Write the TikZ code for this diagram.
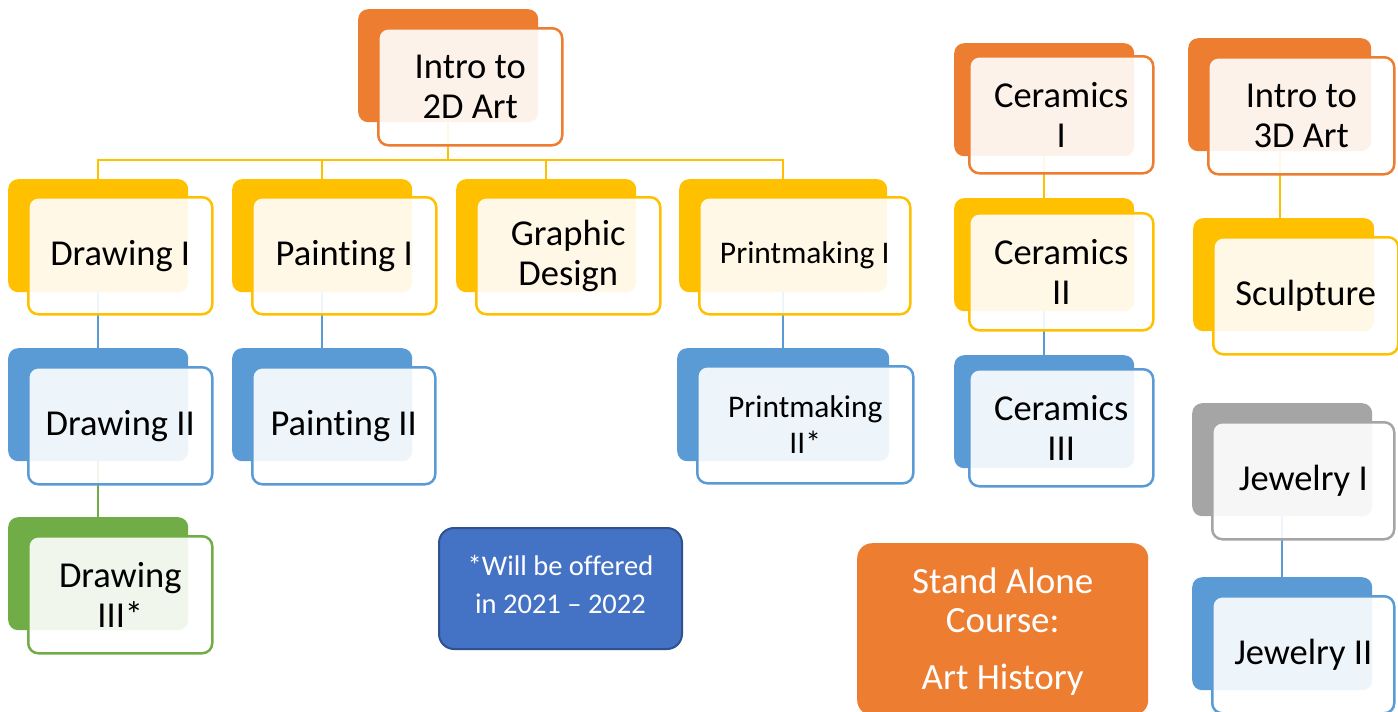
\documentclass[tikz,border=0pt]{standalone}
\usepackage{fontspec}
\setmainfont{Carlito}[Ligatures=NoCommon]
\usetikzlibrary{backgrounds}
\definecolor{cOr}{HTML}{ED7D31}
\definecolor{cYe}{HTML}{FFC000}
\definecolor{cBl}{HTML}{5B9BD5}
\definecolor{cGr}{HTML}{70AD47}
\definecolor{cGy}{HTML}{A5A5A5}
\definecolor{cNote}{HTML}{4472C4}
\definecolor{cNoteB}{HTML}{2F528F}
\newcommand{\crsfont}{\fontsize{36.5}{40}\selectfont}
\newcommand{\crs}[9]{%
  \node[backbox=#2, minimum width=#5] (#1b) at (#3,#4) {};
  \node[frontbox=#2, minimum width=#8] (#1) at (#6,#7) {#9};
}
\tikzset{
  backbox/.style={rounded corners=10pt, fill=#1, draw=none, inner sep=0pt,
    anchor=north west, minimum height=113},
  frontbox/.style={rounded corners=10pt, draw=#1, line width=2.5pt, fill=white,
    fill opacity=0.9, text opacity=1, draw opacity=1, anchor=north west,
    minimum height=117, inner sep=0pt, align=center, font=\crsfont, text=black},
  conn/.style={draw=#1, line width=2.2pt},
  notebox/.style={rounded corners=15pt, fill=cNote, draw=cNoteB, line width=2pt,
    anchor=north west, inner sep=0pt, align=center, text=white,
    font=\fontsize{28.5}{38}\selectfont},
  alonebox/.style={rounded corners=15pt, fill=cOr, draw=none,
    anchor=north west, inner sep=0pt, align=center, text=white,
    font=\fontsize{37}{39}\selectfont}
}
\begin{document}
\begin{tikzpicture}[x=1pt,y=-1pt]
\useasboundingbox (0,0) rectangle (1398,712);

% 2D art tree
\crs{itwo}{cOr}{358}{9}{180}{377}{27}{184}{Intro to\\2D Art}
\crs{dra}{cYe}{8}{179}{180}{27}{196}{184}{Drawing I}
\crs{pai}{cYe}{232}{179}{180}{251}{196}{184}{Painting I}
\crs{gra}{cYe}{456}{179}{180}{475}{196}{184}{Graphic\\Design}
\renewcommand{\crsfont}{\fontsize{31.5}{36}\selectfont}
\crs{pri}{cYe}{679}{179}{208}{698}{196}{211}{Printmaking I}
\crs{prii}{cBl}{677}{348}{212}{696}{365}{216}{Printmaking\\II*}
\renewcommand{\crsfont}{\fontsize{36.5}{40}\selectfont}
\crs{drii}{cBl}{8}{348}{180}{27}{366}{184}{Drawing II}
\crs{paii}{cBl}{232}{348}{180}{251}{366}{183}{Painting II}
\crs{driii}{cGr}{8}{517}{180}{27}{535}{184}{Drawing\\III*}

% ceramics
\crs{cei}{cOr}{954}{43}{180}{968}{55}{184}{Ceramics\\I}
\crs{ceii}{cYe}{954}{198}{180}{968}{212}{184}{Ceramics\\II}
\crs{ceiii}{cBl}{954}{355}{180}{968}{368}{184}{Ceramics\\III}

% 3D art
\crs{ithree}{cOr}{1188}{38}{183}{1207}{56}{186}{Intro to\\3D Art}
\crs{scu}{cYe}{1193}{218}{181}{1212}{236}{185}{Sculpture}
\crs{jei}{cGy}{1192}{403}{180}{1211}{421}{182}{Jewelry I}
\crs{jeii}{cBl}{1192}{577}{180}{1211}{595}{182}{Jewelry II}

% notes
\node[notebox, minimum width=243, minimum height=121, text depth=8pt] (note) at (438,527)
  {*Will be offered\\in 2021 -- 2022};
\node[alonebox, minimum width=291, minimum height=172, text depth=2pt] (alone) at (857,543)
  {Stand Alone\\Course:\\[18pt]Art History};

\begin{scope}[on background layer]
  \coordinate (bus) at (0,160);
  \draw[conn=cYe] (itwob.south) -- (itwob.south |- bus);
  \draw[conn=cYe] (drab.north) |- (prib.north |- bus) -- (prib.north);
  \draw[conn=cYe] (paib.north) -- (paib.north |- bus);
  \draw[conn=cYe] (grab.north) -- (grab.north |- bus);
  \draw[conn=cBl] (drab.south) -- (driib.north);
  \draw[conn=cGr] (driib.south) -- (driiib.north);
  \draw[conn=cBl] (paib.south) -- (paiib.north);
  \draw[conn=cBl] (prib.south) -- (priib.north);
  \draw[conn=cYe] (ceib.south) -- (ceiib.north);
  \draw[conn=cBl] (ceiib.south) -- (ceiiib.north);
  \draw[conn=cYe] (ithreeb.south) -- (ithreeb.south |- scub.north);
  \draw[conn=cBl] (jeib.south) -- (jeiib.north);
\end{scope}
\end{tikzpicture}
\end{document}
